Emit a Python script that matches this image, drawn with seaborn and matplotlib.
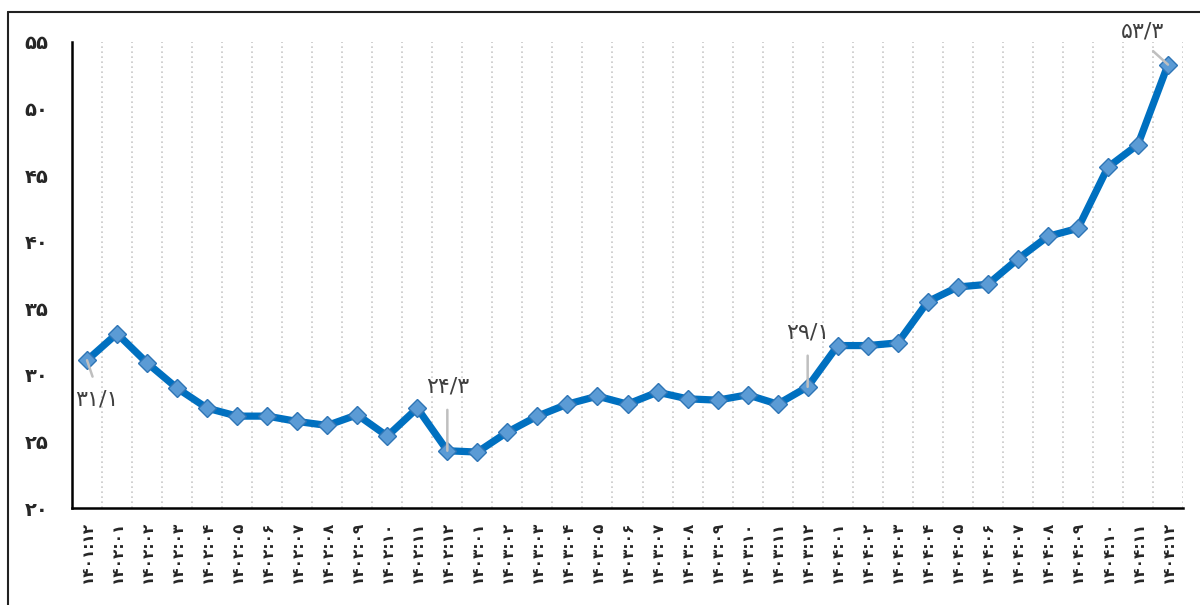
import numpy as np
import pandas as pd
import matplotlib
matplotlib.use("Agg")
import matplotlib.pyplot as plt
from matplotlib.lines import Line2D
import seaborn as sns

# ---------------- data ----------------
periods = [
    "۱۴۰۱:۱۲",
    "۱۴۰۲:۰۱", "۱۴۰۲:۰۲", "۱۴۰۲:۰۳", "۱۴۰۲:۰۴", "۱۴۰۲:۰۵", "۱۴۰۲:۰۶",
    "۱۴۰۲:۰۷", "۱۴۰۲:۰۸", "۱۴۰۲:۰۹", "۱۴۰۲:۱۰", "۱۴۰۲:۱۱", "۱۴۰۲:۱۲",
    "۱۴۰۳:۰۱", "۱۴۰۳:۰۲", "۱۴۰۳:۰۳", "۱۴۰۳:۰۴", "۱۴۰۳:۰۵", "۱۴۰۳:۰۶",
    "۱۴۰۳:۰۷", "۱۴۰۳:۰۸", "۱۴۰۳:۰۹", "۱۴۰۳:۱۰", "۱۴۰۳:۱۱", "۱۴۰۳:۱۲",
    "۱۴۰۴:۰۱", "۱۴۰۴:۰۲", "۱۴۰۴:۰۳", "۱۴۰۴:۰۴", "۱۴۰۴:۰۵", "۱۴۰۴:۰۶",
    "۱۴۰۴:۰۷", "۱۴۰۴:۰۸", "۱۴۰۴:۰۹", "۱۴۰۴:۱۰", "۱۴۰۴:۱۱", "۱۴۰۴:۱۲",
]
values = [31.1, 33.1, 30.9, 29.0, 27.5, 26.9, 26.9, 26.5, 26.2, 27.0, 25.4,
          27.5, 24.3, 24.2, 25.7, 26.9, 27.8, 28.4, 27.8, 28.7, 28.2, 28.1,
          28.5, 27.8, 29.1, 32.2, 32.2, 32.4, 35.5, 36.6, 36.8, 38.7, 40.4,
          41.0, 45.6, 47.3, 53.3]
y_ticks = [20, 25, 30, 35, 40, 45, 50, 55]
y_tick_labels = ["۲۰", "۲۵", "۳۰", "۳۵", "۴۰", "۴۵", "۵۰", "۵۵"]
labelled = [0, 12, 24, 36]

FA_DIGITS = str.maketrans("0123456789.", "۰۱۲۳۴۵۶۷۸۹/")


def to_fa(v):
    return f"{v:.1f}".translate(FA_DIGITS)


df = pd.DataFrame({"idx": np.arange(len(values)), "value": values})

# ---------------- style ----------------
sns.set_style("white")
plt.rcParams["font.family"] = ["DejaVu Sans"]

fig = plt.figure(figsize=(12, 6.05), dpi=100)
ax = fig.add_axes([72 / 1200, 1 - 508 / 605, (1183 - 72) / 1200, (508 - 42) / 605])

sns.lineplot(data=df, x="idx", y="value", ax=ax, color="#0070C0",
             linewidth=5.2, marker="D", markersize=9,
             markerfacecolor="#5B9BD5", markeredgecolor="#2E75B6",
             markeredgewidth=1.0)

ax.set_xlim(-0.5, len(values) - 0.5)
ax.set_ylim(20, 55)
ax.set_xlabel("")
ax.set_ylabel("")

# x ticks / labels
ax.set_xticks(np.arange(len(values)))
ax.set_xticklabels(periods, rotation=90, fontsize=11, fontweight="bold",
                   va="top", ha="center")
ax.set_xticks(np.arange(len(values)) + 0.5, minor=True)
ax.tick_params(axis="x", which="both", length=0, pad=9)

# y ticks / labels
ax.set_yticks(y_ticks)
ax.set_yticklabels(y_tick_labels, fontsize=14, fontweight="bold")
ax.tick_params(axis="y", length=0, pad=17)

# grid: dotted vertical lines between categories
ax.grid(False)
ax.grid(which="minor", axis="x", color="#C8C8C8", linestyle=(0, (1, 2)),
        linewidth=1.2)
ax.set_axisbelow(True)

for s in ["top", "right"]:
    ax.spines[s].set_visible(False)
for s in ["left", "bottom"]:
    ax.spines[s].set_color("black")
    ax.spines[s].set_linewidth(1.8)

# data labels
offsets = {0: (7, -28, (0.5, 1.0)), 12: (0, 46, (0.5, 0.0)),
           24: (0, 39, (0.5, 0.0)), 36: (-18.5, 24, (0.5, 0.0))}
for i in labelled:
    dx, dy, rp = offsets[i]
    ax.annotate(to_fa(values[i]), xy=(i, values[i]), xytext=(dx, dy),
                textcoords="offset points", ha="center", va="center",
                fontsize=16, color="#404040",
                arrowprops=dict(arrowstyle="-", color="#BFBFBF", lw=1.8,
                                shrinkA=7, shrinkB=0, relpos=rp),
                zorder=5)

# outer chart frame (partially visible)
fig.add_artist(Line2D([7.5 / 1200, 7.5 / 1200], [0, 1 - 12 / 605],
                      transform=fig.transFigure, color="#222222", lw=1.5))
fig.add_artist(Line2D([7.5 / 1200, 1], [1 - 12 / 605, 1 - 12 / 605],
                      transform=fig.transFigure, color="#222222", lw=1.5))

fig.savefig("out.png", dpi=100)
